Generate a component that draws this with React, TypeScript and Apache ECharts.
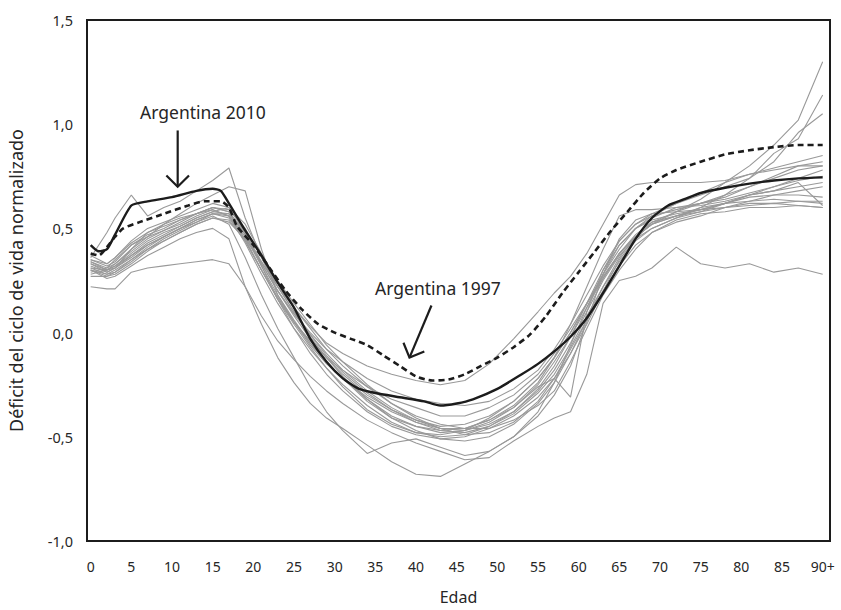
import React, { useEffect, useRef } from "react";
import * as echarts from "echarts";

// Edades (grilla común de los demás países)
const edades = [0, 2, 3, 5, 7, 9, 11, 13, 15, 17, 19, 21, 23, 25, 27, 29, 31, 34, 37, 40, 43, 46, 49, 52, 55, 57, 59, 61, 63, 65, 67, 69, 72, 75, 78, 81, 84, 87, 90];

// Otros países (líneas grises)
const otrosPaises: number[][] = [
  [0.22, 0.21, 0.21, 0.29, 0.31, 0.32, 0.33, 0.34, 0.35, 0.33, 0.22, 0.08, -0.04, -0.13, -0.21, -0.28, -0.34, -0.42, -0.48, -0.53, -0.57, -0.61, -0.60, -0.52, -0.45, -0.41, -0.38, -0.20, 0.14, 0.25, 0.27, 0.31, 0.41, 0.33, 0.31, 0.33, 0.29, 0.31, 0.28],
  [0.30, 0.26, 0.27, 0.32, 0.37, 0.41, 0.45, 0.48, 0.50, 0.45, 0.22, 0.04, -0.12, -0.24, -0.34, -0.41, -0.46, -0.54, -0.62, -0.68, -0.69, -0.63, -0.57, -0.50, -0.40, -0.30, -0.16, 0.05, 0.28, 0.45, 0.54, 0.57, 0.58, 0.59, 0.60, 0.61, 0.62, 0.61, 0.60],
  [0.33, 0.30, 0.31, 0.37, 0.42, 0.46, 0.50, 0.53, 0.56, 0.52, 0.36, 0.18, 0.02, -0.12, -0.26, -0.38, -0.47, -0.58, -0.53, -0.51, -0.55, -0.59, -0.57, -0.50, -0.38, -0.24, -0.06, 0.12, 0.28, 0.42, 0.50, 0.54, 0.57, 0.59, 0.62, 0.63, 0.64, 0.63, 0.62],
  [0.36, 0.48, 0.55, 0.66, 0.56, 0.60, 0.63, 0.68, 0.73, 0.79, 0.55, 0.36, 0.20, 0.08, -0.03, -0.12, -0.20, -0.30, -0.37, -0.42, -0.46, -0.47, -0.44, -0.38, -0.27, -0.16, -0.02, 0.14, 0.30, 0.42, 0.50, 0.55, 0.60, 0.62, 0.65, 0.70, 0.74, 0.78, 0.80],
  [0.28, 0.30, 0.33, 0.40, 0.46, 0.52, 0.57, 0.62, 0.66, 0.70, 0.68, 0.40, 0.18, 0.05, -0.04, -0.12, -0.18, -0.26, -0.32, -0.36, -0.40, -0.40, -0.36, -0.30, -0.20, -0.10, 0.02, 0.14, 0.26, 0.38, 0.46, 0.52, 0.56, 0.60, 0.62, 0.66, 0.68, 0.72, 0.61],
  [0.35, 0.32, 0.34, 0.42, 0.47, 0.50, 0.54, 0.57, 0.60, 0.58, 0.48, 0.34, 0.22, 0.12, 0.03, -0.05, -0.10, -0.16, -0.20, -0.23, -0.25, -0.23, -0.15, -0.03, 0.10, 0.19, 0.27, 0.38, 0.52, 0.66, 0.71, 0.72, 0.72, 0.72, 0.73, 0.76, 0.79, 0.82, 0.85],
  [0.32, 0.29, 0.31, 0.36, 0.42, 0.46, 0.50, 0.54, 0.57, 0.55, 0.44, 0.30, 0.17, 0.05, -0.06, -0.15, -0.22, -0.32, -0.40, -0.45, -0.48, -0.47, -0.43, -0.36, -0.25, -0.14, -0.02, 0.12, 0.26, 0.38, 0.46, 0.52, 0.58, 0.64, 0.72, 0.80, 0.90, 1.02, 1.30],
  [0.34, 0.31, 0.33, 0.39, 0.45, 0.49, 0.52, 0.56, 0.59, 0.56, 0.43, 0.28, 0.14, 0.02, -0.08, -0.17, -0.25, -0.35, -0.43, -0.48, -0.50, -0.49, -0.45, -0.38, -0.28, -0.18, -0.05, 0.10, 0.25, 0.37, 0.45, 0.50, 0.55, 0.60, 0.66, 0.74, 0.86, 0.93, 1.14],
  [0.31, 0.28, 0.30, 0.35, 0.40, 0.45, 0.49, 0.53, 0.57, 0.57, 0.47, 0.33, 0.20, 0.09, -0.01, -0.10, -0.18, -0.28, -0.36, -0.42, -0.45, -0.44, -0.40, -0.33, -0.22, -0.12, 0.00, 0.14, 0.28, 0.40, 0.50, 0.56, 0.62, 0.66, 0.70, 0.74, 0.82, 0.96, 1.05],
  [0.27, 0.27, 0.29, 0.34, 0.40, 0.44, 0.48, 0.52, 0.55, 0.53, 0.45, 0.34, 0.22, 0.10, -0.02, -0.12, -0.21, -0.32, -0.41, -0.47, -0.51, -0.52, -0.50, -0.44, -0.34, -0.24, -0.10, 0.06, 0.22, 0.36, 0.46, 0.52, 0.56, 0.59, 0.62, 0.65, 0.66, 0.66, 0.65],
  [0.34, 0.30, 0.32, 0.38, 0.44, 0.48, 0.51, 0.55, 0.58, 0.60, 0.52, 0.38, 0.24, 0.12, 0.02, -0.08, -0.16, -0.26, -0.34, -0.40, -0.44, -0.46, -0.46, -0.42, -0.35, -0.28, -0.14, 0.02, 0.18, 0.30, 0.40, 0.48, 0.54, 0.57, 0.58, 0.60, 0.60, 0.61, 0.60],
  [0.30, 0.28, 0.29, 0.35, 0.41, 0.46, 0.50, 0.54, 0.57, 0.56, 0.46, 0.32, 0.18, 0.06, -0.05, -0.14, -0.22, -0.33, -0.41, -0.45, -0.47, -0.46, -0.42, -0.36, -0.26, -0.22, -0.31, 0.10, 0.30, 0.44, 0.52, 0.56, 0.59, 0.62, 0.64, 0.67, 0.70, 0.73, 0.75],
  [0.29, 0.31, 0.35, 0.42, 0.46, 0.49, 0.53, 0.57, 0.60, 0.59, 0.50, 0.36, 0.22, 0.10, -0.01, -0.11, -0.19, -0.29, -0.37, -0.43, -0.47, -0.48, -0.45, -0.39, -0.29, -0.20, -0.07, 0.08, 0.22, 0.34, 0.44, 0.50, 0.55, 0.58, 0.62, 0.66, 0.70, 0.74, 0.78],
  [0.37, 0.33, 0.36, 0.44, 0.50, 0.53, 0.56, 0.59, 0.62, 0.60, 0.48, 0.32, 0.16, 0.02, -0.10, -0.20, -0.28, -0.38, -0.45, -0.49, -0.51, -0.50, -0.46, -0.40, -0.31, -0.22, -0.10, 0.04, 0.20, 0.35, 0.45, 0.53, 0.58, 0.62, 0.66, 0.70, 0.75, 0.80, 0.82],
  [0.33, 0.29, 0.31, 0.40, 0.48, 0.52, 0.55, 0.57, 0.59, 0.56, 0.45, 0.30, 0.16, 0.04, -0.07, -0.17, -0.26, -0.37, -0.44, -0.48, -0.49, -0.47, -0.41, -0.33, -0.22, -0.12, 0.00, 0.14, 0.27, 0.38, 0.47, 0.53, 0.56, 0.58, 0.60, 0.62, 0.62, 0.63, 0.63],
  [0.35, 0.33, 0.36, 0.43, 0.48, 0.51, 0.54, 0.57, 0.60, 0.58, 0.47, 0.33, 0.20, 0.09, 0.00, -0.08, -0.14, -0.22, -0.28, -0.32, -0.34, -0.35, -0.33, -0.27, -0.18, -0.08, 0.04, 0.18, 0.32, 0.44, 0.52, 0.57, 0.62, 0.67, 0.72, 0.76, 0.78, 0.80, 0.80],
  [0.31, 0.30, 0.32, 0.37, 0.43, 0.47, 0.51, 0.55, 0.58, 0.57, 0.49, 0.37, 0.25, 0.14, 0.04, -0.06, -0.14, -0.25, -0.34, -0.41, -0.46, -0.49, -0.48, -0.43, -0.33, -0.22, -0.08, 0.06, 0.20, 0.32, 0.42, 0.48, 0.53, 0.56, 0.60, 0.63, 0.66, 0.68, 0.70],
  [0.30, 0.27, 0.28, 0.33, 0.39, 0.44, 0.48, 0.52, 0.55, 0.54, 0.44, 0.30, 0.16, 0.05, -0.05, -0.14, -0.22, -0.31, -0.38, -0.43, -0.46, -0.46, -0.42, -0.35, -0.24, -0.12, 0.04, 0.22, 0.40, 0.56, 0.59, 0.59, 0.60, 0.61, 0.63, 0.66, 0.68, 0.70, 0.72],
];

// Argentina 2010 (línea negra continua)
const edades2010 = [0, 1, 2, 3, 5, 7, 10, 13, 15, 16, 17, 19, 21, 23, 25, 27, 29, 31, 33, 35, 38, 41, 43, 45, 47, 50, 53, 55, 57, 59, 61, 63, 65, 67, 69, 71, 73, 75, 78, 81, 84, 87, 90];
const argentina2010 = [0.42, 0.39, 0.40, 0.47, 0.61, 0.63, 0.65, 0.68, 0.69, 0.68, 0.62, 0.49, 0.37, 0.24, 0.12, -0.03, -0.14, -0.22, -0.27, -0.29, -0.31, -0.33, -0.35, -0.34, -0.32, -0.27, -0.20, -0.15, -0.09, -0.02, 0.07, 0.19, 0.32, 0.45, 0.55, 0.61, 0.64, 0.67, 0.695, 0.715, 0.73, 0.74, 0.745];

// Argentina 1997 (línea negra punteada)
const edades1997 = [0, 1, 2, 3, 4, 6, 9, 12, 14, 16, 17, 18, 20, 22, 24, 26, 28, 30, 32, 34, 36, 38, 40, 42, 44, 46, 48, 50, 52, 54, 56, 58, 60, 62, 64, 66, 68, 70, 72, 75, 78, 81, 84, 87, 90];
const argentina1997 = [0.38, 0.37, 0.41, 0.46, 0.50, 0.53, 0.57, 0.61, 0.63, 0.63, 0.60, 0.51, 0.42, 0.31, 0.20, 0.11, 0.04, 0.00, -0.03, -0.06, -0.11, -0.16, -0.21, -0.23, -0.225, -0.20, -0.16, -0.12, -0.07, -0.01, 0.08, 0.19, 0.29, 0.39, 0.49, 0.58, 0.67, 0.74, 0.78, 0.82, 0.855, 0.875, 0.89, 0.90, 0.90];

// Etiquetas del eje X
const ticksX = [0, 5, 10, 15, 20, 25, 30, 35, 40, 45, 50, 55, 60, 65, 70, 75, 80, 85, 90];

const FONT = "Noto Sans";
const TEXT = "#262626";
const INK = "#1c1c1c";

export default function App() {
  const ref = useRef<HTMLDivElement>(null);

  useEffect(() => {
    document.body.style.margin = "0";
    const chart = echarts.init(ref.current!, null, { renderer: "svg" });

    const series: any[] = otrosPaises.map((vals, i) => ({
      type: "line",
      name: "pais" + (i + 1),
      data: edades.map((a, j) => [a, vals[j]]),
      symbol: "none",
      silent: true,
      z: 2,
      lineStyle: { color: "#999999", width: 1.1 },
    }));
    series.push({
      type: "line",
      name: "Argentina 1997",
      data: edades1997.map((a, j) => [a, argentina1997[j]]),
      symbol: "none",
      smooth: 0.2,
      silent: true,
      z: 3,
      lineStyle: { color: INK, width: 2.6, type: [6, 4] },
    });
    series.push({
      type: "line",
      name: "Argentina 2010",
      data: edades2010.map((a, j) => [a, argentina2010[j]]),
      symbol: "none",
      smooth: 0.2,
      silent: true,
      z: 4,
      lineStyle: { color: INK, width: 2.4 },
    });

    chart.setOption({
      animation: false,
      backgroundColor: "#ffffff",
      textStyle: { fontFamily: FONT },
      grid: {
        left: 87,
        right: 11,
        top: 20,
        bottom: 69,
        show: true,
        borderColor: INK,
        borderWidth: 2,
        containLabel: false,
        outerBoundsMode: "none",
      },
      xAxis: {
        type: "value",
        min: -0.45,
        max: 90.9,
        name: "Edad",
        nameLocation: "middle",
        nameGap: 48,
        nameTextStyle: { fontSize: 16, color: TEXT, fontFamily: FONT },
        axisLine: { show: false },
        axisTick: { show: false },
        splitLine: { show: false },
        axisLabel: {
          customValues: ticksX,
          formatter: (v: number) => (v === 90 ? "90+" : String(v)),
          fontSize: 14,
          color: TEXT,
          margin: 18,
          fontFamily: FONT,
        },
      },
      yAxis: {
        type: "value",
        min: -1,
        max: 1.5,
        interval: 0.5,
        name: "Déficit del ciclo de vida normalizado",
        nameLocation: "middle",
        nameGap: 62,
        nameTextStyle: { fontSize: 18, color: TEXT, fontFamily: FONT },
        axisLine: { show: false },
        axisTick: { show: false },
        splitLine: { show: false },
        axisLabel: {
          formatter: (v: number) => v.toFixed(1).replace(".", ","),
          fontSize: 14.5,
          color: TEXT,
          margin: 14,
          fontFamily: FONT,
        },
      },
      series,
    });

    const px = (a: number, v: number) => chart.convertToPixel({ gridIndex: 0 }, [a, v]) as number[];

    const arrow = (tail: number[], tip: number[]) => {
      const dx = tail[0] - tip[0];
      const dy = tail[1] - tip[1];
      const len = Math.sqrt(dx * dx + dy * dy);
      const ux = dx / len;
      const uy = dy / len;
      const L = 16;
      const th = Math.PI / 4;
      const r = (s: number) => [
        tip[0] + L * (ux * Math.cos(s * th) - uy * Math.sin(s * th)),
        tip[1] + L * (ux * Math.sin(s * th) + uy * Math.cos(s * th)),
      ];
      const style = { stroke: INK, lineWidth: 2.2 };
      return [
        { type: "line", shape: { x1: tail[0], y1: tail[1], x2: tip[0], y2: tip[1] }, style, z: 10 },
        { type: "polyline", shape: { points: [r(1), tip, r(-1)] }, style: { ...style, fill: null }, z: 10 },
      ];
    };

    const t2010 = px(13.8, 1.06);
    const t1997 = px(42.7, 0.215);

    chart.setOption({
      graphic: [
        ...arrow(px(10.7, 0.97), px(10.7, 0.70)),
        ...arrow(px(41.9, 0.13), px(39.2, -0.12)),
        {
          type: "text",
          x: t2010[0],
          y: t2010[1],
          z: 10,
          style: { text: "Argentina 2010", fontSize: 17.5, fill: TEXT, fontFamily: FONT, align: "center", verticalAlign: "middle" },
        },
        {
          type: "text",
          x: t1997[0],
          y: t1997[1],
          z: 10,
          style: { text: "Argentina 1997", fontSize: 17.5, fill: TEXT, fontFamily: FONT, align: "center", verticalAlign: "middle" },
        },
      ],
    });

    return () => chart.dispose();
  }, []);

  return <div ref={ref} style={{ position: "absolute", left: 0, top: 0, width: 841, height: 610 }} />;
}
